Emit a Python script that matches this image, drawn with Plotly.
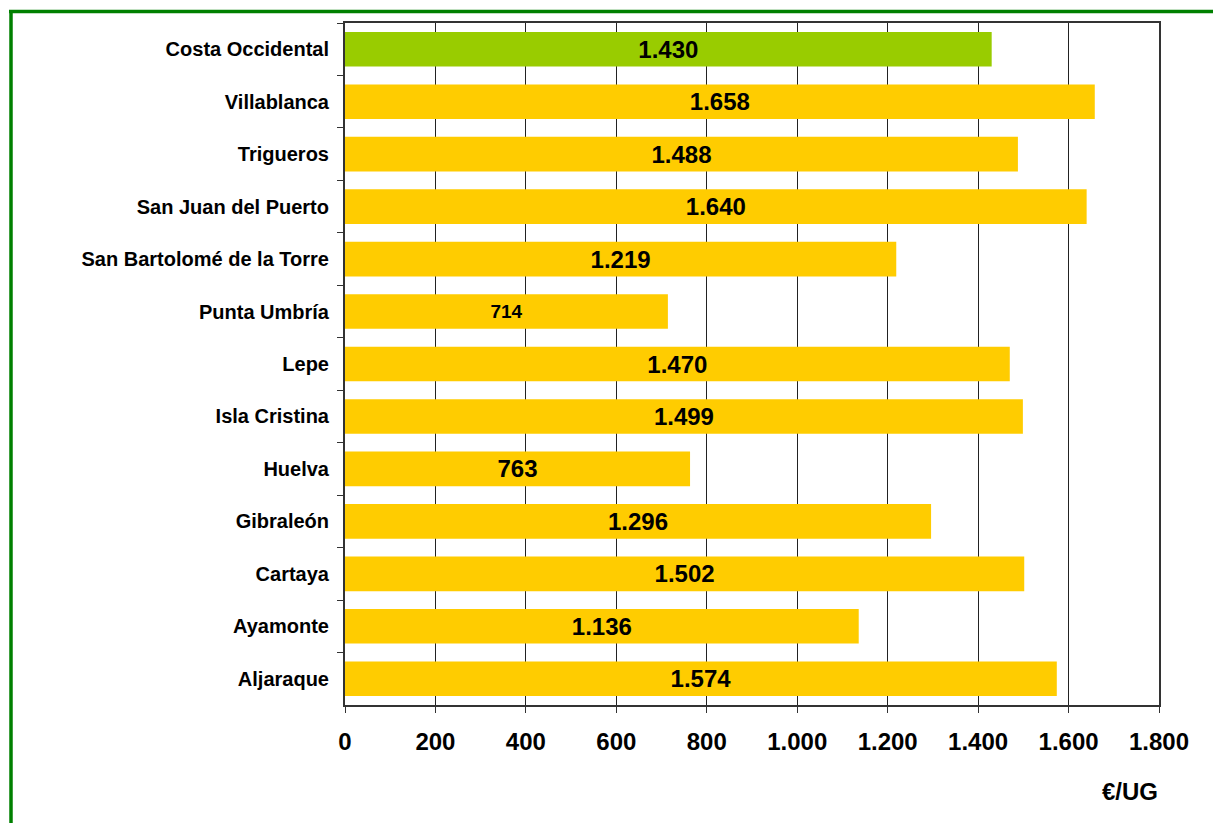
import plotly.graph_objects as go

categories = ["Costa Occidental", "Villablanca", "Trigueros", "San Juan del Puerto",
              "San Bartolomé de la Torre", "Punta Umbría", "Lepe", "Isla Cristina",
              "Huelva", "Gibraleón", "Cartaya", "Ayamonte", "Aljaraque"]
values = [1430, 1658, 1488, 1640, 1219, 714, 1470, 1499, 763, 1296, 1502, 1136, 1574]
bar_colors = ["#99CC00"] + ["#FFCC00"] * 12
label_sizes = [24, 24, 24, 24, 24, 19, 24, 24, 24, 24, 24, 24, 24]
x_ticks = [0, 200, 400, 600, 800, 1000, 1200, 1400, 1600, 1800]
x_unit = "€/UG"


def fmt(v):
    return f"{v:,}".replace(",", ".")


fig = go.Figure(go.Bar(
    x=values, y=categories, orientation="h",
    marker=dict(color=bar_colors, line=dict(width=0)),
    width=0.66,
    text=[fmt(v) for v in values],
    textposition="inside", insidetextanchor="middle",
    textfont=dict(family="Liberation Sans", size=label_sizes, color="black", weight="bold"),
    textangle=0,
    hoverinfo="skip",
))

PW, PH = 814, 682
fig.update_layout(
    width=1213, height=823,
    margin=dict(l=345, r=54, t=23, b=118),
    paper_bgcolor="white", plot_bgcolor="white",
    showlegend=False,
    font=dict(family="Liberation Sans", color="black"),
    uniformtext=dict(mode=False),
    shapes=[
        dict(type="line", xref="paper", yref="paper", x0=-336 / PW, x1=1 + 60 / PW,
             y0=1 + 11.5 / PH, y1=1 + 11.5 / PH,
             line=dict(color="#008000", width=3.5)),
        dict(type="line", xref="paper", yref="paper", x0=-334 / PW, x1=-334 / PW,
             y0=1 + 13 / PH, y1=-130 / PH,
             line=dict(color="#008000", width=3.5)),
    ],
    annotations=[dict(text="<b>" + x_unit + "</b>", xref="paper", yref="paper",
                      x=(1130 - 345) / PW, y=-(792 - 705) / PH, xanchor="center", yanchor="middle",
                      showarrow=False, font=dict(size=24, family="Liberation Sans", color="black"))],
)

fig.update_xaxes(
    range=[0, 1800], tickvals=x_ticks, ticktext=["<b>" + fmt(t) + "</b>" for t in x_ticks],
    showgrid=True, gridcolor="#222222", gridwidth=1,
    showline=True, linecolor="#333333", linewidth=2, mirror=True,
    ticks="outside", ticklen=6, tickcolor="#333333",
    tickfont=dict(size=24, family="Liberation Sans", color="black"),
    ticklabelstandoff=8,
    zeroline=False, fixedrange=True,
)
fig.update_yaxes(
    categoryorder="array", categoryarray=categories,
    range=[12.5, -0.5],
    showline=True, linecolor="#333333", linewidth=2, mirror=True,
    ticks="outside", ticklen=6, tickcolor="#333333", tickson="boundaries",
    tickfont=dict(size=20, family="Liberation Sans", color="black", weight="bold"),
    ticklabelstandoff=10,
    showgrid=False, fixedrange=True,
)

fig.write_html("out.html", config={"displayModeBar": False, "staticPlot": True},
               post_script="document.body.style.margin='0px';document.body.style.overflow='hidden';")
